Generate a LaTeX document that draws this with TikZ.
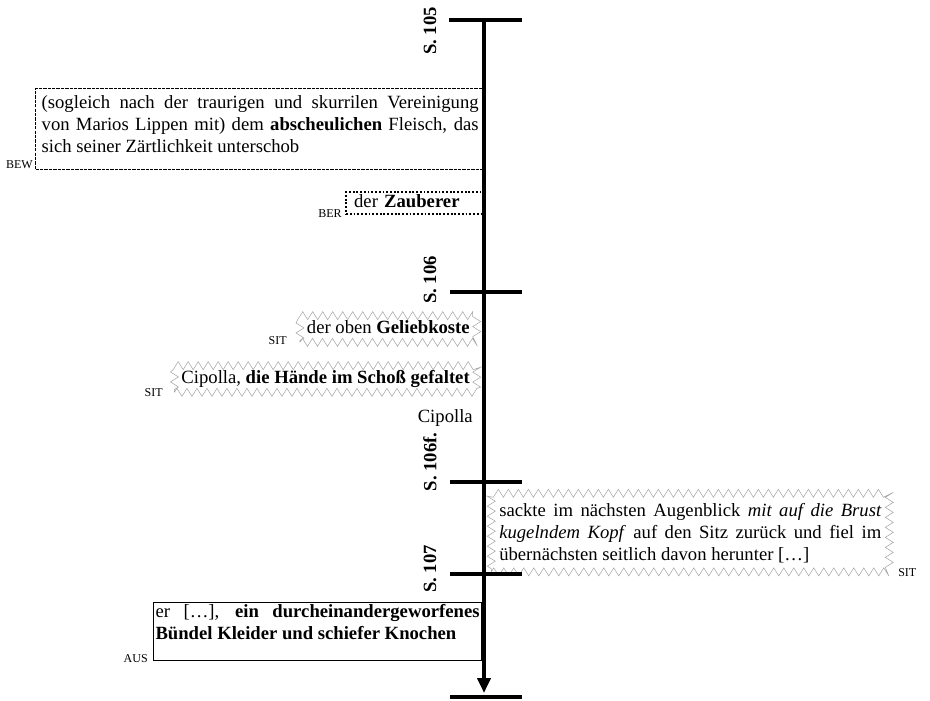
\documentclass[tikz,border=0pt]{standalone}
\usepackage{fontspec}
\setmainfont{Liberation Serif}
\usetikzlibrary{arrows.meta,decorations.pathmorphing}
% no hyphenation inside the justified boxes; lines are broken by hand
\hyphenpenalty=10000
\exhyphenpenalty=10000
\tolerance=10000
% invisible rule that gives a line a fixed depth
\newcommand\lowstrut[1]{\rule[-#1]{0pt}{#1}}

\begin{document}
\begin{tikzpicture}[x=0.75pt,y=-0.75pt,
  txt/.style={font=\fontsize{14pt}{16.5pt}\selectfont},
  para/.style={txt, align=justify, text width=#1},
  lbl/.style={font=\fontsize{9pt}{10pt}\selectfont, inner sep=0pt},
  page/.style={font=\bfseries\fontsize{14pt}{16pt}\selectfont, rotate=90, inner sep=0pt},
  tickbar/.style={line width=2.7pt},
  axisline/.style={line width=3pt},
  bewbox/.style={draw, line width=1pt, dash pattern=on 2.5pt off 0.8pt},
  berbox/.style={draw, line width=1.7pt, dash pattern=on 1.4pt off 1.4pt},
  sitbox/.style={draw=black!35, line width=0.4pt, decorate,
    decoration={zigzag, segment length=7.5pt, amplitude=3pt}},
  ausbox/.style={draw, line width=0.8pt},
  oneline/.style={txt, text height=10pt, text depth=3pt},
]
\useasboundingbox (0,0) rectangle (930,700);

% ---------- passages ----------
\node[bewbox, para=327.75pt, inner xsep=4.5pt, inner ysep=3.4pt, anchor=north west]
  (bew) at (35,88)
  {\strut(sogleich nach der traurigen und skurrilen Vereinigung\linebreak
   von Marios Lippen mit) dem \textbf{abscheulichen} Fleisch, das\linebreak
   sich seiner Zärtlichkeit unterschob\lowstrut{9.35pt}};
\node[lbl, anchor=base east] (bewlbl) at (33,168) {BEW};

\node[berbox, oneline, text width=90.75pt, align=left, inner xsep=6pt, inner ysep=1.7pt,
  anchor=north west] (ber) at (345,191) {der \textbf{Zauberer}};
\node[lbl, anchor=base east] (berlbl) at (342,217) {BER};

\node[sitbox, oneline, inner xsep=5.25pt, inner ysep=3.5pt, anchor=east]
  (sita) at (477,329) {der oben \textbf{Geliebkoste}\hspace{4pt}};
\node[lbl, anchor=base east] (sitalbl) at (287,344) {SIT};

\node[sitbox, oneline, inner xsep=5.25pt, inner ysep=3.5pt, anchor=east]
  (sitb) at (477,379) {Cipolla, \textbf{die Hände im Schoß gefaltet}\hspace{4pt}};
\node[lbl, anchor=base east] (sitblbl) at (163,396) {SIT};

\node[txt, inner sep=0pt, anchor=base east] (cip) at (473,422) {Cipolla};

\node[sitbox, para=286.5pt, inner xsep=6pt, inner ysep=5.7pt, anchor=north west]
  (sitc) at (491,493)
  {\strut sackte im nächsten Augenblick \textit{mit auf die Brust\linebreak
   kugelndem Kopf} auf den Sitz zurück und fiel im\linebreak
   übernächsten seitlich davon herunter […]\lowstrut{3pt}};
\node[lbl, anchor=base west] (sitclbl) at (898,576) {SIT};

\node[ausbox, para=243pt, inner xsep=1.5pt, inner ysep=0pt, anchor=north west]
  (aus) at (153,602)
  {\strut er […], \textbf{ein durcheinandergeworfenes\linebreak
   Bündel Kleider und schiefer Knochen}\lowstrut{15.5pt}};
\node[lbl, anchor=base east] (auslbl) at (148,662) {AUS};

% ---------- page marks ----------
\node[page] (p105) at (430,31) {S. 105};
\node[page] (p106) at (430,280) {S. 106};
\node[page] (p106f) at (430,462) {S. 106f.};
\node[page] (p107) at (430,569) {S. 107};

% ---------- time axis ----------
\coordinate (axtop) at (484,20);
\coordinate (axend) at (484,693);
\draw[tickbar] (449,20) -- (522,20);
\draw[tickbar] (450,292) -- (522,292);
\draw[tickbar] (450,482) -- (522,482);
\draw[tickbar] (450,574) -- (522,574);
\draw[tickbar] (450,697) -- (522,697);
\draw[axisline, -{Triangle[width=9.75pt,length=11.25pt]}] (axtop) -- (axend);
\end{tikzpicture}
\end{document}
